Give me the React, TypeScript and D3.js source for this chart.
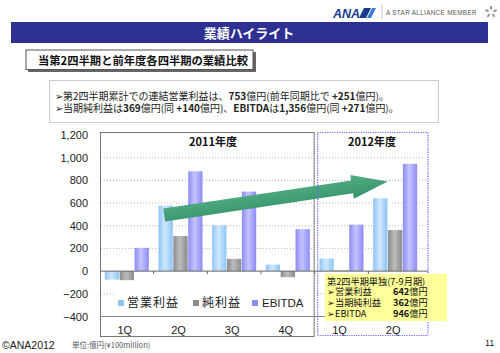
import React from 'react';
import * as d3 from 'd3';

// quarters (2011 fiscal year x4, 2012 fiscal year x2)
const quarterIds = ['11-1Q', '11-2Q', '11-3Q', '11-4Q', '12-1Q', '12-2Q'];
const quarterLabels = ['1Q', '2Q', '3Q', '4Q', '1Q', '2Q'];
// 億円
const operatingIncome = [-75, 577, 405, 58, 111, 642];
const netIncome = [-80, 309, 108, -53, 7, 362];
const ebitda = [205, 880, 701, 370, 410, 946];

const seriesNames = ['営業利益', '純利益', 'EBITDA'];
const seriesColors = [
    ['#8ec3f4', '#cfe8ff'],
    ['#8a8a8a', '#bdbdbd'],
    ['#8c8cf2', '#c4c4ff'],
];
const yTicks = [-400, -200, 0, 200, 400, 600, 800, 1000, 1200];
const gridTicks = [-200, 200, 400, 600, 800, 1000];

// trend arrow anchors (category, fraction of band, value)
const arrowFrom = { id: '11-2Q', f: 0.13, v: 495 };
const arrowTo = { id: '12-2Q', f: 0.33, v: 790 };

const calloutLines = [
    { label: '第2四半期単独(7-9月期)', value: '' },
    { label: '➢営業利益', value: '642億円' },
    { label: '➢当期純利益', value: '362億円' },
    { label: '➢EBITDA', value: '946億円' },
];

const jp = '"Noto Sans CJK JP", "Noto Sans", sans-serif';
const ar = '"Liberation Sans", Arial, "Noto Sans CJK JP", sans-serif';

export default function App() {
    const series = [operatingIncome, netIncome, ebitda];

    const x = d3.scaleBand().domain(quarterIds).range([100, 422])
        .paddingInner(0.18).paddingOuter(0.09);
    const xs = d3.scaleBand().domain(['0', '1', '2']).range([0, x.bandwidth()]).paddingInner(0.04);
    const y = d3.scaleLinear().domain([-400, 1200]).range([316.5, 135]);

    const step = x.step();
    const gap = (step - x.bandwidth()) / 2;
    const split = (x('11-4Q') as number) + x.bandwidth() + gap;

    // arrow geometry
    const ax0 = (x(arrowFrom.id) as number) + x.bandwidth() * arrowFrom.f;
    const ay0 = y(arrowFrom.v);
    const ax1 = (x(arrowTo.id) as number) + x.bandwidth() * arrowTo.f;
    const ay1 = y(arrowTo.v);
    const len = Math.hypot(ax1 - ax0, ay1 - ay0);
    const ang = Math.atan2(ay1 - ay0, ax1 - ax0) * 180 / Math.PI;
    const hw = 6.5, hh = 12, hl = 36;
    const arrowPts = [
        [0, -hw], [len - hl, -hw], [len - hl, -hh], [len, 0],
        [len - hl, hh], [len - hl, hw], [0, hw],
    ].map(p => p.join(',')).join(' ');

    return (
        <svg width={500} height={353} style={{ position: 'absolute', left: 0, top: 0, background: '#fff' }}>
            <defs>
                {seriesColors.map((c, i) => (
                    <linearGradient key={i} id={`bar${i}`} x1="0" x2="1" y1="0" y2="0">
                        <stop offset="0" stopColor={c[0]} />
                        <stop offset="0.45" stopColor={c[1]} />
                        <stop offset="1" stopColor={c[0]} />
                    </linearGradient>
                ))}
                <linearGradient id="arrowGrad" x1="0" x2="0" y1="0" y2="1">
                    <stop offset="0" stopColor="#52ad85" />
                    <stop offset="1" stopColor="#37946a" />
                </linearGradient>
            </defs>

            {/* header */}
            <text x={333} y={18} fontFamily={ar} fontWeight="bold" fontStyle="italic" fontSize={12.5} fill="#1b3a8c">ANA</text>
            <polygon points="364,8 371,8 366,18 359,18" fill="#1b3a8c" />
            <polygon points="372,8 376,8 371,18 367,18" fill="#3c7fd0" />
            <line x1={382} x2={382} y1={5} y2={19} stroke="#bbb" strokeWidth={0.8} />
            <text x={386} y={14.5} fontFamily={ar} fontSize={6.3} fill="#555" letterSpacing={0.35}>A STAR ALLIANCE MEMBER</text>
            <g transform="translate(491,12)" fill="#999">
                {[0, 72, 144, 216, 288].map(a => (
                    <rect key={a} x={-1} y={-6} width={2} height={3.5} transform={`rotate(${a})`} />
                ))}
            </g>

            <rect x={11} y={22} width={477} height={21} fill="#2e3192" />
            <text x={249} y={37.5} textAnchor="middle" fontFamily={jp} fontWeight="bold" fontSize={13} fill="#fff">業績ハイライト</text>

            <rect x={28} y={52} width={228} height={20} fill="#666" />
            <rect x={26} y={50} width={227} height={19.5} fill="#fff" stroke="#555" strokeWidth={1} />
            <text x={38} y={64.5} fontFamily={jp} fontWeight="bold" fontSize={11.3} fill="#111">当第2四半期と前年度各四半期の業績比較</text>

            <rect x={49.5} y={80.5} width={389} height={42} fill="#fff" stroke="#999" strokeDasharray="1,1" />
            <text x={55} y={99.5} fontFamily={jp} fontSize={10} fill="#222">
                ➢第2四半期累計での連結営業利益は、<tspan fontWeight="bold">753</tspan>億円(前年同期比で <tspan fontWeight="bold">+251</tspan>億円)。
            </text>
            <text x={55} y={111.5} fontFamily={jp} fontSize={10} fill="#222">
                ➢当期純利益は<tspan fontWeight="bold">369</tspan>億円(同 <tspan fontWeight="bold">+140</tspan>億円)、<tspan fontWeight="bold">EBITDA</tspan>は<tspan fontWeight="bold">1,356</tspan>億円(同 <tspan fontWeight="bold">+271</tspan>億円)。
            </text>

            {/* chart frames */}
            <rect x={100.5} y={132.5} width={split - 101} height={204} fill="#fff" stroke="#777" strokeWidth={1} />

            {/* grid */}
            {gridTicks.map(t => (
                <line key={t} x1={101} x2={427} y1={y(t)} y2={y(t)} stroke="#a8a8a8" strokeDasharray="1,2" strokeWidth={0.8} />
            ))}
            <line x1={100} x2={428} y1={y(-400)} y2={y(-400)} stroke="#888" strokeWidth={1} />

            {/* y axis labels */}
            {yTicks.map(t => (
                <text key={t} x={88} y={y(t) + 4} textAnchor="end" fontFamily={ar} fontSize={11} fill="#222">
                    {d3.format(',')(t)}
                </text>
            ))}

            {/* bars */}
            {quarterIds.map((q, qi) => (
                <g key={q} transform={`translate(${x(q)},0)`}>
                    {series.map((s, si) => {
                        const v = s[qi];
                        return (
                            <rect key={si} x={xs(String(si))} width={xs.bandwidth()}
                                y={Math.min(y(v), y(0))} height={Math.abs(y(v) - y(0))}
                                fill={`url(#bar${si})`} />
                        );
                    })}
                </g>
            ))}

            {/* zero line */}
            <line x1={100} x2={428} y1={y(0)} y2={y(0)} stroke="#666" strokeWidth={1} />
            {quarterIds.slice(1).map(q => (
                <line key={q} x1={(x(q) as number) - gap} x2={(x(q) as number) - gap} y1={y(0)} y2={y(0) + 3} stroke="#666" />
            ))}

            {/* category labels */}
            {quarterIds.map((q, i) => (
                <text key={q} x={(x(q) as number) + x.bandwidth() / 2 - 2} y={334} textAnchor="middle" fontFamily={ar} fontSize={11} fill="#222">
                    {quarterLabels[i]}
                </text>
            ))}

            {/* year labels */}
            <text x={213} y={146} textAnchor="middle" fontFamily={jp} fontWeight="bold" fontSize={11} fill="#111">2011年度</text>
            <text x={372} y={146} textAnchor="middle" fontFamily={jp} fontWeight="bold" fontSize={11} fill="#111">2012年度</text>

            {/* legend */}
            <rect x={116} y={292} width={196} height={21} fill="#fff" />
            {seriesNames.map((n, i) => {
                const lx = [118, 193, 252][i];
                return (
                    <g key={n}>
                        <rect x={lx} y={300} width={6} height={6} fill={seriesColors[i][0]} />
                        <text x={lx + (i === 2 ? 10 : 9)} y={307} fontFamily={i === 2 ? ar : jp} fontSize={i === 2 ? 11.5 : 12} fill="#222"
                            letterSpacing={i === 2 ? 0 : 1}>{n}</text>
                    </g>
                );
            })}

            {/* trend arrow */}
            <polygon points={arrowPts} transform={`translate(${ax0},${ay0}) rotate(${ang})`} fill="url(#arrowGrad)" />

            {/* 2012 frame */}
            <rect x={split + 3} y={132.5} width={428 - split - 3} height={203} fill="none" stroke="#6666ff" strokeWidth={1.2} strokeDasharray="1.2,1.2" />

            {/* callout */}
            <rect x={325} y={274} width={122} height={47} fill="#ffff99" />
            {calloutLines.map((l, i) => (
                <g key={i}>
                    <text x={327} y={284.5 + i * 10.7} fontFamily={jp} fontSize={9.2} fill="#111">{l.label}</text>
                    {l.value && (
                        <text x={393} y={284.5 + i * 10.7} fontFamily={jp} fontSize={9.2} fill="#111">
                            <tspan fontWeight="bold">{l.value.replace('億円', '')}</tspan>億円
                        </text>
                    )}
                </g>
            ))}

            {/* footer */}
            <text x={2} y={349} fontFamily={ar} fontSize={10.5} fill="#222">©ANA2012</text>
            <text x={72} y={348} fontFamily={jp} fontSize={7.5} fill="#555">単位:億円(¥100million)</text>
            <text x={485} y={346} fontFamily={ar} fontSize={9} fill="#222">11</text>
        </svg>
    );
}
